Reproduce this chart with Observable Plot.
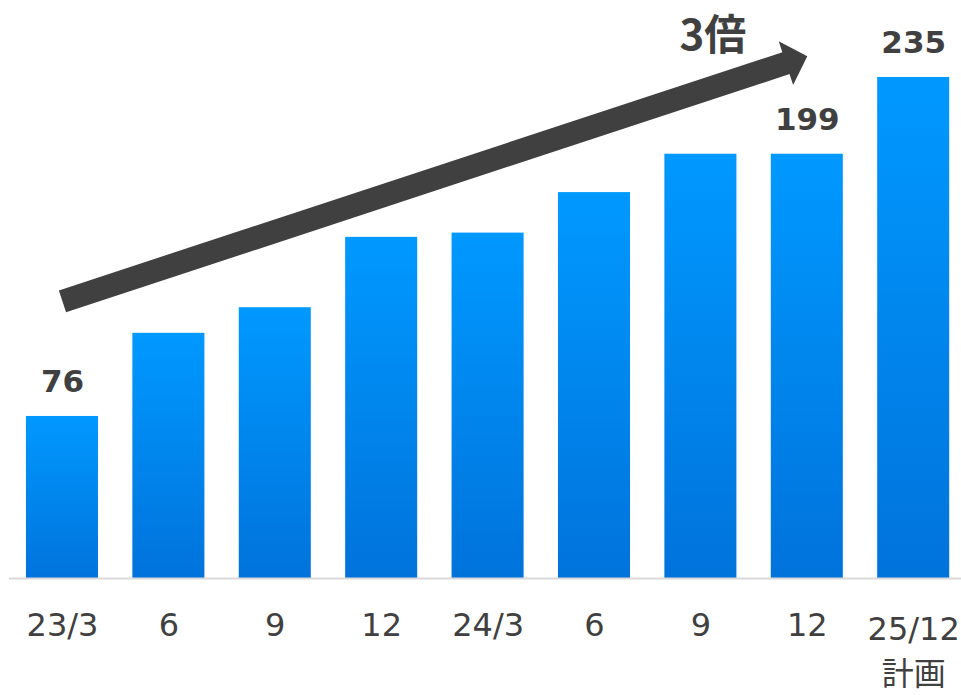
<!DOCTYPE html>
<html>
<head>
<meta charset="utf-8">
<script src="https://cdn.jsdelivr.net/npm/d3@7"></script>
<script src="https://cdn.jsdelivr.net/npm/@observablehq/plot@0.6"></script>
<style>
  html, body { margin: 0; padding: 0; background: #ffffff; }
  #chart svg { display: block; }
</style>
</head>
<body>
<div id="chart"></div>
<script>
// ---- data ----
const periods = ["23/3", "23/6", "23/9", "23/12", "24/3", "24/6", "24/9", "24/12", "25/12"];
const tickLabels = ["23/3", "6", "9", "12", "24/3", "6", "9", "12", "25/12\n計画"];
const values = [76, 115, 127, 160, 162, 181, 199, 199, 235];
const valueLabels = ["76", "", "", "", "", "", "", "199", "235"];
const trendStart = {period: "23/3", value: 130};
const trendEnd = {period: "24/12", value: 245};
const trendText = {period: "24/9", value: 248, label: "3倍"};

// ---- table ----
const rows = periods.map((p, i) => ({period: p, value: values[i], tick: tickLabels[i], label: valueLabels[i]}));

const dark = "#404040";
const latin = "'DejaVu Sans', 'Noto Sans CJK JP', sans-serif";
const cjk = "'Noto Sans CJK JP', 'DejaVu Sans', sans-serif";

// arrow head shape (triangle pointing along the trend direction, tip at origin)
const headAngle = -18.26 * Math.PI / 180;
const headSymbol = {
  draw(ctx) {
    const pts = [[0, 0], [-22.5, -23], [-22.5, 23]];
    const c = Math.cos(headAngle), s = Math.sin(headAngle);
    pts.forEach(([px, py], i) => {
      const X = px * c - py * s, Y = px * s + py * c;
      if (i) ctx.lineTo(X, Y); else ctx.moveTo(X, Y);
    });
    ctx.closePath();
  }
};

const chart = Plot.plot({
  width: 961,
  height: 695,
  marginTop: 0,
  marginBottom: 117,
  marginLeft: 9,
  marginRight: 0,
  style: {background: "#ffffff", color: dark, fontFamily: latin, overflow: "visible"},
  x: {type: "band", domain: periods, paddingInner: 0.323, paddingOuter: 0.135, align: 0.59, round: false, axis: null},
  y: {domain: [0, 271.1], axis: null},
  marks: [
    Plot.barY(rows, {x: "period", y: "value", fill: "url(#barGrad)"}),
    Plot.ruleY([0], {stroke: "#d9d9d9", strokeWidth: 2}),
    // value labels
    Plot.text(rows.filter(d => d.label), {
      x: "period", y: "value", text: "label", dy: -24, lineAnchor: "bottom",
      fontSize: 31, fontWeight: "bold", fill: dark, fontFamily: latin
    }),
    // x tick labels (single line)
    Plot.text(rows.filter(d => !d.tick.includes("\n")), {
      x: "period", text: "tick", frameAnchor: "bottom", lineAnchor: "bottom", dy: 57,
      fontSize: 32, fill: dark, fontFamily: latin
    }),
    // x tick labels (two lines)
    Plot.text(rows.filter(d => d.tick.includes("\n")), {
      x: "period", text: "tick", frameAnchor: "bottom", lineAnchor: "bottom", dy: 106, lineHeight: 1.4,
      fontSize: 32, fill: dark, fontFamily: latin
    }),
    // trend arrow body
    Plot.arrow([{x1: trendStart.period, y1: trendStart.value, x2: trendEnd.period, y2: trendEnd.value}], {
      x1: "x1", y1: "y1", x2: "x2", y2: "y2",
      stroke: dark, strokeWidth: 23, strokeLinecap: "butt", headLength: 0, insetEnd: 20
    }),
    // trend arrow head
    Plot.dot([trendEnd], {x: "period", y: "value", symbol: headSymbol, fill: dark, stroke: "none", r: 10}),
    // trend label
    Plot.text([trendText], {
      x: "period", y: "value", text: "label", dx: 12, lineAnchor: "bottom",
      fontSize: 42, fontWeight: "bold", fill: dark, fontFamily: cjk
    })
  ]
});

const svgEl = chart.tagName.toLowerCase() === "svg" ? chart : chart.querySelector("svg");
d3.select(svgEl).insert("defs", ":first-child").html(
  '<linearGradient id="barGrad" x1="0" y1="0" x2="0" y2="1">' +
  '<stop offset="0" stop-color="#0099ff"/>' +
  '<stop offset="1" stop-color="#0073db"/>' +
  '</linearGradient>'
);
document.getElementById("chart").appendChild(chart);
</script>
</body>
</html>
